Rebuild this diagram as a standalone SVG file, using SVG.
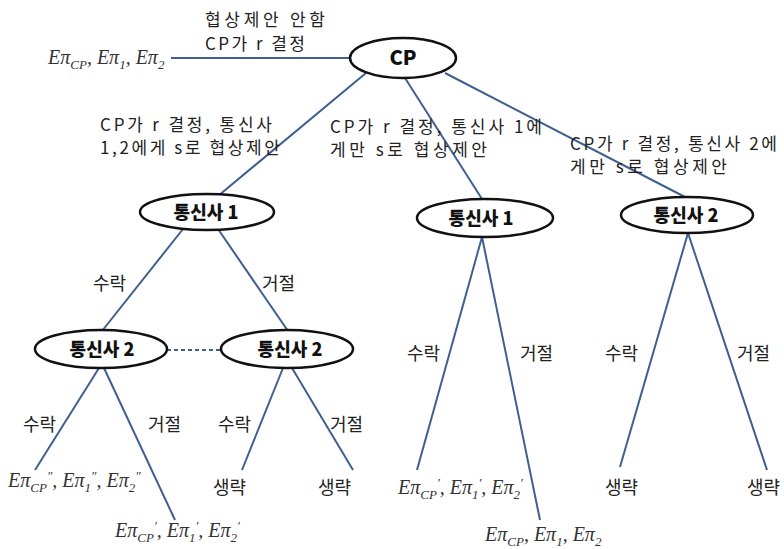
<svg xmlns="http://www.w3.org/2000/svg" width="784" height="549" viewBox="0 0 784 549">
<style>
.edge{stroke:#3e5f8f;stroke-width:2;fill:none}
.dash{stroke:#3e5f8f;stroke-width:2;stroke-dasharray:4 3;fill:none}
.node{fill:#fff;stroke:#111;stroke-width:2.5}
.nt{font-family:"Noto Sans CJK KR","Noto Sans",sans-serif;font-weight:900;font-size:18px;fill:#111;text-anchor:middle}
.lb{font-family:"Noto Sans CJK KR","Noto Sans",sans-serif;font-size:18px;fill:#222}
.bl{font-family:"Noto Sans CJK KR","Noto Sans",sans-serif;font-size:17px;fill:#222}
.f{font-family:"Liberation Serif",serif;font-style:italic;font-size:20px;fill:#333}
.s{font-size:13px}
</style>
<rect width="784" height="549" fill="#fff"/>
<g id="connectors">
<line class="edge" x1="171" y1="58" x2="351" y2="58"/>
<line class="edge" x1="366" y1="73" x2="218" y2="196"/>
<line class="edge" x1="405" y1="78" x2="482" y2="199"/>
<line class="edge" x1="445" y1="73" x2="685" y2="197"/>
<line class="edge" x1="183" y1="229" x2="102" y2="331"/>
<line class="edge" x1="218" y1="229" x2="288" y2="331"/>
<line class="dash" x1="167" y1="350" x2="222" y2="350"/>
<line class="edge" x1="99" y1="368" x2="35" y2="470"/>
<line class="edge" x1="104" y1="368" x2="175" y2="520"/>
<line class="edge" x1="283" y1="368" x2="242" y2="470"/>
<line class="edge" x1="292" y1="368" x2="353" y2="470"/>
<line class="edge" x1="482" y1="237" x2="417" y2="470"/>
<line class="edge" x1="482" y1="237" x2="540" y2="520"/>
<line class="edge" x1="688" y1="233" x2="620" y2="467"/>
<line class="edge" x1="688" y1="233" x2="767" y2="470"/>
</g>
<g id="labels">
<text class="bl" x="205" y="26" textLength="120" lengthAdjust="spacing">협상제안 안함</text>
<text class="bl" x="205" y="50" textLength="100" lengthAdjust="spacing">CP가 r 결정</text>
<text class="bl" x="100" y="131" textLength="172" lengthAdjust="spacing">CP가 r 결정, 통신사</text>
<text class="bl" x="100" y="154" textLength="180" lengthAdjust="spacing">1,2에게 s로 협상제안</text>
<text class="bl" x="330" y="133" textLength="212" lengthAdjust="spacing">CP가 r 결정, 통신사 1에</text>
<text class="bl" x="330" y="156" textLength="157" lengthAdjust="spacing">게만 s로 협상제안</text>
<text class="bl" x="570" y="150" textLength="207" lengthAdjust="spacing">CP가 r 결정, 통신사 2에</text>
<text class="bl" x="570" y="173" textLength="157" lengthAdjust="spacing">게만 s로 협상제안</text>
<text class="lb" x="93" y="290">수락</text>
<text class="lb" x="262" y="290">거절</text>
<text class="lb" x="23" y="431">수락</text>
<text class="lb" x="148" y="431">거절</text>
<text class="lb" x="218" y="431">수락</text>
<text class="lb" x="330" y="431">거절</text>
<text class="lb" x="407" y="360">수락</text>
<text class="lb" x="520" y="360">거절</text>
<text class="lb" x="605" y="360">수락</text>
<text class="lb" x="737" y="360">거절</text>
</g>
<g id="node-cp"><ellipse class="node" cx="403" cy="58" rx="53" ry="20"/><text class="nt" x="403" y="65" style="font-size:20px">CP</text></g>
<g id="node-t1-left"><ellipse class="node" cx="207" cy="212" rx="67" ry="18"/><text class="nt" x="206" y="219">통신사 1</text></g>
<g id="node-t1-mid"><ellipse class="node" cx="485" cy="218" rx="68" ry="19"/><text class="nt" x="481" y="225">통신사 1</text></g>
<g id="node-t2-right"><ellipse class="node" cx="687" cy="215" rx="66" ry="18"/><text class="nt" x="686" y="222">통신사 2</text></g>
<g id="node-t2-a"><ellipse class="node" cx="101" cy="349" rx="66" ry="19"/><text class="nt" x="102" y="356">통신사 2</text></g>
<g id="node-t2-b"><ellipse class="node" cx="287" cy="349" rx="66" ry="19"/><text class="nt" x="290" y="356">통신사 2</text></g>
<g id="leaf-root"><text class="f" x="48" y="64">Eπ<tspan class="s" dy="5">CP</tspan><tspan dy="-5">, Eπ</tspan><tspan class="s" dy="5">1</tspan><tspan dy="-5">, Eπ</tspan><tspan class="s" dy="5">2</tspan></text></g>
<g id="leaf-a1"><text class="f" x="8" y="487">Eπ<tspan class="s" dy="5">CP</tspan><tspan class="s" dy="-12">″</tspan><tspan dy="7">, Eπ</tspan><tspan class="s" dy="5">1</tspan><tspan class="s" dy="-12">″</tspan><tspan dy="7">, Eπ</tspan><tspan class="s" dy="5">2</tspan><tspan class="s" dy="-12">″</tspan></text></g>
<g id="leaf-a2"><text class="f" x="115" y="537">Eπ<tspan class="s" dy="5">CP</tspan><tspan class="s" dy="-12">′</tspan><tspan dy="7">, Eπ</tspan><tspan class="s" dy="5">1</tspan><tspan class="s" dy="-12">′</tspan><tspan dy="7">, Eπ</tspan><tspan class="s" dy="5">2</tspan><tspan class="s" dy="-12">′</tspan></text></g>
<g id="leaf-b1"><text class="lb" x="213" y="494">생략</text></g>
<g id="leaf-b2"><text class="lb" x="318" y="494">생략</text></g>
<g id="leaf-m1"><text class="f" x="398" y="494">Eπ<tspan class="s" dy="5">CP</tspan><tspan class="s" dy="-12">′</tspan><tspan dy="7">, Eπ</tspan><tspan class="s" dy="5">1</tspan><tspan class="s" dy="-12">′</tspan><tspan dy="7">, Eπ</tspan><tspan class="s" dy="5">2</tspan><tspan class="s" dy="-12">′</tspan></text></g>
<g id="leaf-m2"><text class="f" x="485" y="541">Eπ<tspan class="s" dy="5">CP</tspan><tspan dy="-5">, Eπ</tspan><tspan class="s" dy="5">1</tspan><tspan dy="-5">, Eπ</tspan><tspan class="s" dy="5">2</tspan></text></g>
<g id="leaf-r1"><text class="lb" x="605" y="494">생략</text></g>
<g id="leaf-r2"><text class="lb" x="747" y="494">생략</text></g>
</svg>
